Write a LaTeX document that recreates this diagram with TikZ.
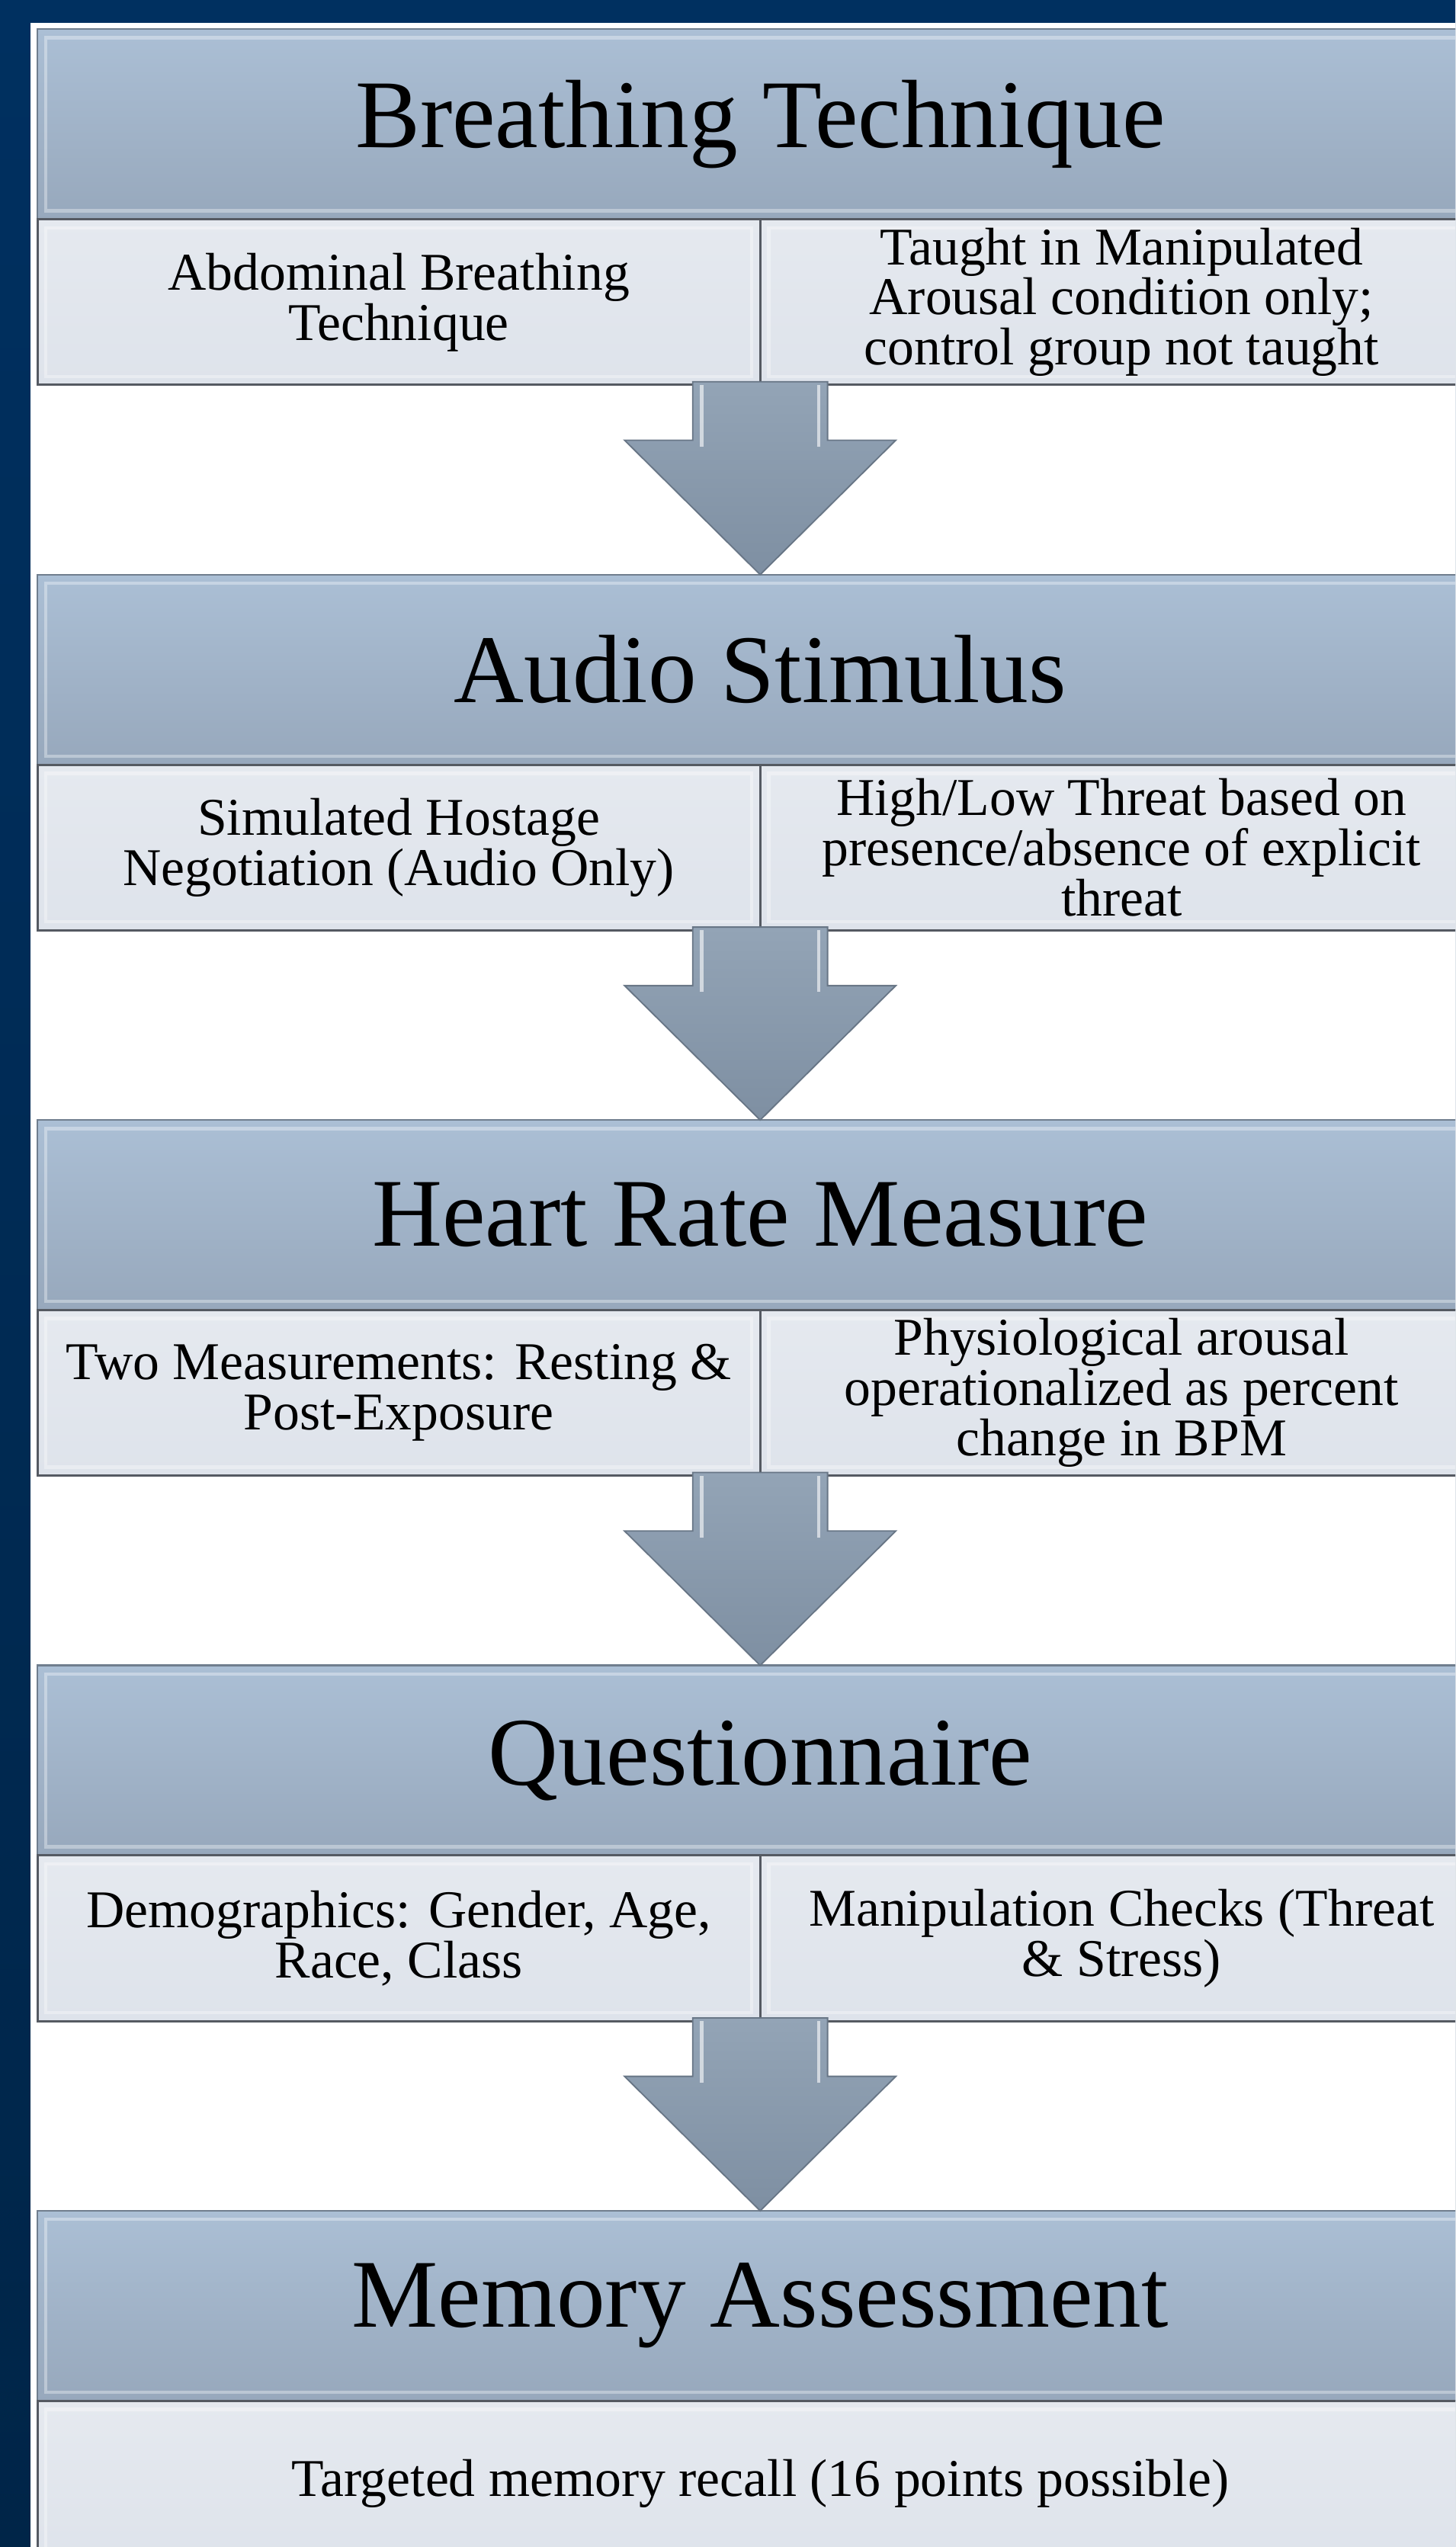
\documentclass[tikz,border=0pt]{standalone}
\usepackage{fontspec}
\setmainfont{Liberation Serif}
\usetikzlibrary{calc}
\definecolor{navy}{RGB}{0,48,96}
\definecolor{navydark}{RGB}{0,37,72}
\definecolor{headtop}{RGB}{171,191,213}
\definecolor{headbot}{RGB}{151,168,188}
\definecolor{headedge}{RGB}{112,126,142}
\definecolor{subtop}{RGB}{229,233,239}
\definecolor{subbot}{RGB}{222,227,235}
\definecolor{subedge}{RGB}{85,90,98}
\definecolor{arrowtop}{RGB}{147,164,182}
\definecolor{arrowbot}{RGB}{126,143,162}
\definecolor{arrowedge}{RGB}{104,118,134}
\tikzset{
  bevel/.style={path picture={
    \draw[white, opacity=.35, line width=1.2pt]
      ([shift={(3pt,-3pt)}]path picture bounding box.north west) rectangle
      ([shift={(-3pt,3pt)}]path picture bounding box.south east);}},
  headbox/.style={draw=headedge, line width=.6pt, top color=headtop, bottom color=headbot,
    minimum width=178mm, minimum height=23.4mm, inner sep=0pt, outer sep=0pt,
    anchor=north west, bevel, font=\fontsize{34}{40}\selectfont},
  subbox/.style={draw=subedge, line width=.8pt, top color=subtop, bottom color=subbot,
    minimum width=89mm, minimum height=20.4mm, inner sep=0pt, outer sep=0pt,
    anchor=north west, align=center, bevel, font=\fontsize{18.6}{17.6}\selectfont},
  blockarrow/.style={draw=arrowedge, line width=.5pt, top color=arrowtop,
    bottom color=arrowbot, line join=miter},
}
\begin{document}
\begin{tikzpicture}[x=0.2mm, y=-0.2mm]
\useasboundingbox (0,0) rectangle (896,1568);
\clip (0,0) rectangle (896,1568);
% frame
\fill[top color=navy, bottom color=navydark] (0,0) rectangle (896,1568);
\fill[white] (19,14) rectangle (896,1568);

% stages
\node[headbox] (h1) at (23,18) {Breathing Technique};
\node[subbox] (l1) at (h1.south west) {Abdominal Breathing\\Technique};
\node[subbox] (r1) at (l1.north east) {Taught in Manipulated\\Arousal condition only;\\control group not taught};

\node[headbox] (h2) at (23,353.75) {Audio Stimulus};
\node[subbox] (l2) at (h2.south west) {Simulated Hostage\\Negotiation (Audio Only)};
\node[subbox] (r2) at (l2.north east) {High/Low Threat based on\\presence/absence of explicit\\threat};

\node[headbox] (h3) at (23,689.5) {Heart Rate Measure};
\node[subbox] (l3) at (h3.south west) {Two Measurements: Resting \&\\Post-Exposure};
\node[subbox] (r3) at (l3.north east) {Physiological arousal\\operationalized as percent\\change in BPM};

\node[headbox] (h4) at (23,1025.25) {Questionnaire};
\node[subbox] (l4) at (h4.south west) {Demographics: Gender, Age,\\Race, Class};
\node[subbox] (r4) at (l4.north east) {Manipulation Checks (Threat\\\& Stress)};

\node[headbox] (h5) at (23,1361) {Memory Assessment};
\node[subbox, minimum width=178mm] (l5) at (h5.south west) {Targeted memory recall (16 points possible)};

% arrows
\foreach \s/\h in {l1/h2, l2/h3, l3/h4, l4/h5}{
  \coordinate (o) at (\s.south east);
  \draw[blockarrow] ($(o)+(-41.5,-2)$) -- ($(o)+(-41.5,34)$) -- ($(o)+(-83.5,34)$)
    -- (o |- \h.north) -- ($(o)+(83.5,34)$) -- ($(o)+(41.5,34)$) -- ($(o)+(41.5,-2)$) -- cycle;
  \draw[white, opacity=.6, line width=1.2pt] ($(o)+(-36,0)$) -- ($(o)+(-36,38)$)
    ($(o)+(36,0)$) -- ($(o)+(36,38)$);
}
\end{tikzpicture}
\end{document}
